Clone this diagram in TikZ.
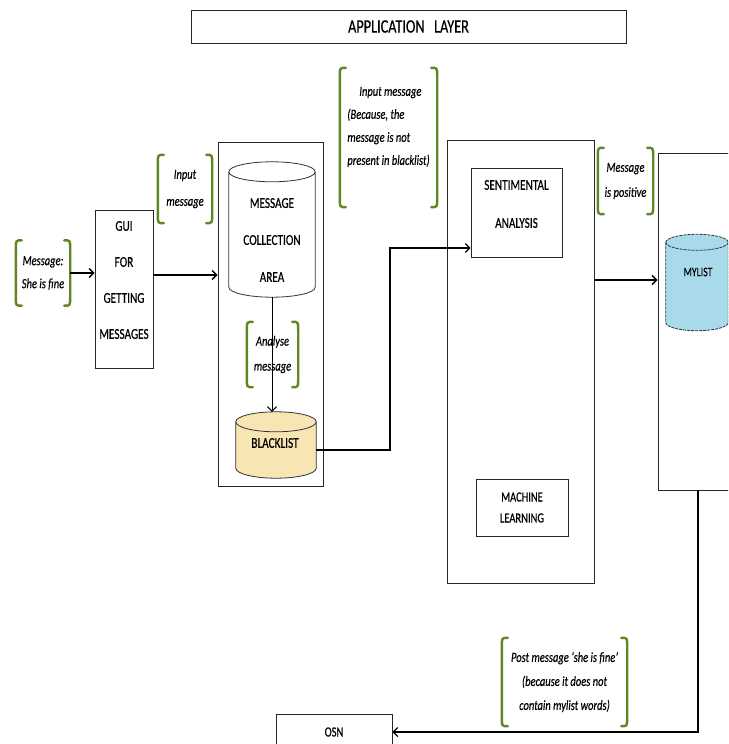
\documentclass[tikz,border=0pt]{standalone}
\usepackage{fontspec}
\setmainfont[FakeStretch=0.75,FakeBold=0.4]{Carlito}
\usetikzlibrary{arrows.meta,calc}
\definecolor{brkgreen}{RGB}{96,135,34}
\definecolor{blfill}{RGB}{248,229,180}
\definecolor{myfill}{RGB}{168,218,236}
\newcommand\brackets[1]{%
  \draw[brk] ([xshift=6pt]#1.north west) .. controls (#1.north west) .. ([yshift=-9pt]#1.north west)
     -- ([yshift=9pt]#1.south west) .. controls (#1.south west) .. ([xshift=6pt]#1.south west);
  \draw[brk] ([xshift=-6pt]#1.north east) .. controls (#1.north east) .. ([yshift=-9pt]#1.north east)
     -- ([yshift=9pt]#1.south east) .. controls (#1.south east) .. ([xshift=-6pt]#1.south east);
}
\newcommand\cylshape[4]{%
  \path[draw=black!80,line width=0.8pt,fill=#3,#4]
    let \p1=(#1.north west), \p2=(#1.south east), \n1={(\x2-\x1)/2} in
    (\x1,\y1-#2) -- (\x1,\y2+#2)
      arc[start angle=180,end angle=360,x radius=\n1,y radius=#2]
      -- (\x2,\y1-#2)
      arc[start angle=0,end angle=180,x radius=\n1,y radius=#2] -- cycle
    (\x1,\y1-#2) arc[start angle=180,end angle=360,x radius=\n1,y radius=#2];
}
\begin{document}
\begin{tikzpicture}[x=1pt,y=-1pt,
  box/.style={draw=black!85,line width=0.8pt,inner sep=0pt,align=center},
  ghost/.style={inner sep=0pt,align=center},
  capt/.style={font=\fontsize{15}{#1}\selectfont},
  capt/.default=16,
  ital/.style={font=\fontsize{14}{#1}\selectfont\itshape},
  ital/.default=24,
  conn/.style={line width=1.4pt,-{Straight Barb[length=4.5pt,width=9pt]}},
  brk/.style={draw=brkgreen,line width=2.4pt,line cap=round}]
\useasboundingbox (0,0) rectangle (728,744);
\fill[white] (0,0) rectangle (728,744);
\clip (0,0) rectangle (728,744);

% title
\node[box,minimum width=435pt,minimum height=33pt,font=\fontsize{19}{20}\selectfont] (app) at (408.5,26.5) {APPLICATION\hspace{0.5em}LAYER};

% input message label
\node[ghost,minimum width=54pt,minimum height=65pt,ital=23] (m1) at (43,273) {Message:\\She is fine};
\brackets{m1}

% GUI
\node[box,minimum width=58pt,minimum height=158pt] (gui) at (124,289) {};
\node[ghost,capt=36] (guit) at (124,280) {GUI\\FOR\\GETTING\\MESSAGES};
\draw[conn] (m1.east) -- (m1.east -| gui.west);

\node[ghost,minimum width=54pt,minimum height=68pt,ital=27] (inp1) at (185,189) {Input\\message};
\brackets{inp1}

% message collection container
\node[box,minimum width=105pt,minimum height=344pt] (mc) at (270.5,314) {};
\coordinate (gout) at ([yshift=14pt]gui.east);
\draw[conn] (gout) -- (gout -| mc.west);

\node[ghost,minimum width=86pt,minimum height=135pt] (mca) at (272,229.5) {};
\cylshape{mca}{10pt}{white}{}
\node[ghost,capt=37] (mcat) at (272,240) {MESSAGE\\COLLECTION\\AREA};

\node[ghost,minimum width=80pt,minimum height=66pt] (bl) at (276,445) {};
\cylshape{bl}{10pt}{blfill}{}
\node[ghost,capt] (blt) at (275,443) {BLACKLIST};

\draw[conn,line width=1pt] (mca.south) -- (mca.south |- bl.north);
\node[ghost,minimum width=51pt,minimum height=65pt,ital=25] (an) at (272.5,354.5) {Analyse\\message};
\brackets{an}

% sentimental analysis block
\node[box,minimum width=147pt,minimum height=443pt] (big) at (520.5,361.5) {};
\node[box,minimum width=91pt,minimum height=89pt] (sa) at (516.5,212.5) {};
\node[ghost,capt=38] (sat) at (516.5,204) {SENTIMENTAL\\ANALYSIS};
\node[box,minimum width=92pt,minimum height=57pt,capt=21,font=\fontsize{14}{21}\selectfont] (ml) at (522,507.5) {MACHINE\\LEARNING};

\node[ghost,minimum width=97pt,minimum height=139pt] (inp2) at (388.5,137.5) {};
\brackets{inp2}
\node[ghost,ital=23,align=left] (inp2t) at (388.5,127) {\hspace*{12pt}Input message\\(Because, the\\message is not\\present in blacklist)};

\coordinate (bend) at (390,0);
\coordinate (sain) at ([yshift=-35.5pt]sa.west);
\coordinate (blout) at ([yshift=-5pt]bl.east);
\draw[conn,line width=1.2pt] (blout) -| (bend |- sain) -- (sain);

% mylist block
\node[ghost,minimum width=55pt,minimum height=66pt,ital=25] (pos) at (625.5,181) {Message\\is positive};
\brackets{pos}
\node[box,minimum width=142pt,minimum height=337pt] (myl) at (729,321.5) {};
\node[ghost,minimum width=62pt,minimum height=96pt] (mylc) at (697,282.5) {};
\cylshape{mylc}{8pt}{myfill}{dash pattern=on 3pt off 1pt}
\node[ghost,font=\fontsize{13}{16}\selectfont] (mylt) at (698,272) {MYLIST};

\coordinate (sout) at ([yshift=81.5pt]big.east);
\draw[conn] (sout) -- (sout -| myl.west);

% OSN
\node[box,minimum width=116pt,minimum height=36pt,font=\fontsize{14}{16}\selectfont] (osn) at (334,732) {OSN};
\coordinate (drop) at (698,0);
\draw[conn,line width=1.2pt] (drop |- myl.south) |- (osn.east);

\node[ghost,minimum width=125pt,minimum height=88pt,ital=24] (post) at (564.5,682) {Post message ‘she is fine’\\(because it does not\\contain mylist words)};
\brackets{post}
\end{tikzpicture}
\end{document}
